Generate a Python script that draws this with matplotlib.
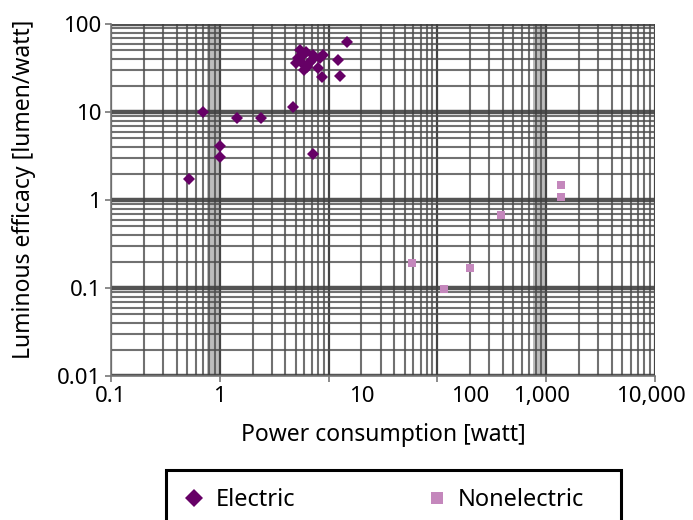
import matplotlib
matplotlib.use("Agg")
import matplotlib.pyplot as plt
import numpy as np
from matplotlib.ticker import LogLocator, FixedLocator, NullFormatter
from matplotlib.transforms import ScaledTranslation
from matplotlib.lines import Line2D
from matplotlib.patches import Rectangle

plt.rcParams['font.family'] = ['Noto Sans', 'DejaVu Sans']

# ---- data ----
electric_power = [0.52, 0.70, 1.0, 1.0, 1.43, 2.38, 4.67, 7.13,
                  5.2, 5.77, 5.65, 6.28, 6.98, 7.13, 8.27, 7.93, 8.81, 8.63,
                  4.98, 5.42, 6.15, 6.0, 6.69, 12.1, 12.6, 14.9]
electric_efficacy = [1.75, 10.1, 4.15, 3.11, 8.6, 8.6, 11.5, 3.37,
                     41.2, 44.6, 36.1, 32.6, 39.1, 44.6, 41.2, 31.7, 44.6, 25.1,
                     36.1, 50.7, 48.2, 30.1, 37.1, 39.1, 25.7, 62.5]

nonelectric_power = [59, 114, 201, 386, 1365, 1365]
nonelectric_efficacy = [0.194, 0.097, 0.168, 0.67, 1.47, 1.08]

x_ticks = [0.1, 1, 10, 100, 1000, 10000]
x_tick_labels = ["0.1", "1", "10", "100", "1,000", "10,000"]
y_ticks = [0.01, 0.1, 1, 10, 100]
y_tick_labels = ["0.01", "0.1", "1", "10", "100"]

series_names = ["Electric", "Nonelectric"]
electric_color = "#660066"
nonelectric_color = "#C487BC"

# ---- figure ----
W, H = 693, 520
fig = plt.figure(figsize=(W / 100, H / 100), dpi=100)
left, right, top, bottom = 111, 655, 24, 376
ax = fig.add_axes([left / W, 1 - bottom / H, (right - left) / W, (bottom - top) / H])

ax.set_xscale("log")
ax.set_yscale("log")
ax.set_xlim(0.1, 10000)
ax.set_ylim(0.01, 100)

# light moire bands seen in reference
ax.axvspan(0.76, 1.0, color="#bdbdbd", zorder=0, lw=0)
ax.axvspan(760, 1000, color="#bdbdbd", zorder=0, lw=0)

ax.xaxis.set_major_locator(FixedLocator(x_ticks))
ax.yaxis.set_major_locator(FixedLocator(y_ticks))
ax.xaxis.set_minor_locator(LogLocator(base=10, subs=np.arange(2, 10)))
ax.yaxis.set_minor_locator(LogLocator(base=10, subs=np.arange(2, 10)))
ax.xaxis.set_minor_formatter(NullFormatter())
ax.yaxis.set_minor_formatter(NullFormatter())
ax.set_xticklabels(x_tick_labels)
ax.set_yticklabels(y_tick_labels)

ax.xaxis.grid(True, which="major", color="#444444", lw=1.6, zorder=1)
ax.xaxis.grid(True, which="minor", color="#4d4d4d", lw=1.5, alpha=0.8, zorder=1)
ax.yaxis.grid(True, which="major", color="#404040", lw=3.2, alpha=0.9, zorder=1)
ax.yaxis.grid(True, which="minor", color="#4d4d4d", lw=1.5, alpha=0.8, zorder=1)
ax.set_axisbelow(True)

for s in ["top", "right"]:
    ax.spines[s].set_visible(False)
for s in ["left", "bottom"]:
    ax.spines[s].set_color("#777777")
    ax.spines[s].set_linewidth(1.2)

ax.tick_params(which="major", length=4, width=1.2, color="#777777",
               labelsize=16, labelcolor="black", pad=3)
ax.tick_params(which="minor", length=0)

# label offsets as in the reference
offsets_px = {"10": 33, "100": 33, "1,000": -5, "10,000": -4}
for lab in ax.get_xticklabels():
    dx = offsets_px.get(lab.get_text(), 0)
    if dx:
        lab.set_transform(lab.get_transform() + ScaledTranslation(dx / 100, 0, fig.dpi_scale_trans))

ax.plot(electric_power, electric_efficacy, linestyle="none", marker="D",
        markersize=6, color=electric_color, markeredgewidth=0, zorder=3, label=series_names[0])
ax.plot(nonelectric_power, nonelectric_efficacy, linestyle="none", marker="s",
        markersize=6, color=nonelectric_color, markeredgewidth=0, zorder=3, label=series_names[1])

ax.set_xlabel("Power consumption [watt]", fontsize=16.5, labelpad=12)
ax.set_ylabel("Luminous efficacy [lumen/watt]", fontsize=16.5)
ax.yaxis.set_label_coords(-0.138, 0.53)

# legend box (extends below figure edge as in reference)
fig.patches.append(Rectangle((166 / W, 1 - 540 / H), (621 - 166) / W, (540 - 470) / H,
                             transform=fig.transFigure, fill=False, edgecolor="black",
                             lw=2.2, zorder=5))
handles = [Line2D([], [], linestyle="none", marker="D", markersize=9, color=electric_color, markeredgewidth=0),
           Line2D([], [], linestyle="none", marker="s", markersize=8, color=nonelectric_color, markeredgewidth=0)]
fig.legend(handles, series_names, loc="center left", bbox_to_anchor=(172 / W, 1 - 500 / H),
           ncol=2, frameon=False, fontsize=17, handlelength=0.9, handletextpad=0.45,
           columnspacing=5.55, borderpad=0)

fig.savefig("out.png", dpi=100)
